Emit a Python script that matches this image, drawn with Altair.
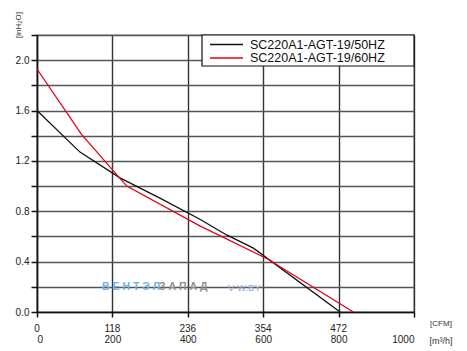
import altair as alt
import pandas as pd

# ---- data ----
series = ["SC220A1-AGT-19/50HZ", "SC220A1-AGT-19/60HZ"]
colors = ["#111111", "#e3001b"]

flow_50 = [0, 114, 220, 326, 432, 503, 574, 804]          # m3/h
press_50 = [1.60, 1.27, 1.065, 0.905, 0.737, 0.612, 0.507, 0.0]  # inH2O

flow_60 = [0, 118, 238, 432, 613, 839]
press_60 = [1.93, 1.41, 1.0, 0.684, 0.419, 0.0]

x_ticks = [0, 100, 200, 300, 400, 500, 600, 700, 800, 900, 1000]
y_ticks = [0.0, 0.2, 0.4, 0.6, 0.8, 1.0, 1.2, 1.4, 1.6, 1.8, 2.0, 2.2]
cfm_pos = [0, 200, 400, 600, 800]
cfm_labels = ["0", "118", "236", "354", "472"]

FONT = "Liberation Sans"

df = pd.DataFrame(
    {"flow": flow_50 + flow_60,
     "press": press_50 + press_60,
     "series": [series[0]] * len(flow_50) + [series[1]] * len(flow_60)}
)
cfm_df = pd.DataFrame({"pos": cfm_pos, "label": cfm_labels})
leg_df = pd.DataFrame({"series": series, "color": colors, "row": [9.5, 23]})

xscale = alt.Scale(domain=[0, 1000], nice=False, zero=False)
yscale = alt.Scale(domain=[0, 2.2], nice=False, zero=False)

lines = alt.Chart(df).mark_line(strokeWidth=1.3).encode(
    x=alt.X("flow:Q", scale=xscale, title=None,
            axis=alt.Axis(values=x_ticks,
                          labelExpr="datum.value % 200 == 0 ? format(datum.value, 'd') : ''",
                          tickSize=5, labelPadding=17, labelFontSize=10,
                          labelFont=FONT, labelColor="#222",
                          domainColor="#111", domainWidth=1.5,
                          tickColor="#111", tickWidth=1.5,
                          gridColor="#333", gridWidth=1.4)),
    y=alt.Y("press:Q", scale=yscale, title=None,
            axis=alt.Axis(values=y_ticks,
                          labelExpr="round(datum.value*10) % 4 == 0 ? format(datum.value, '.1f') : ''",
                          tickSize=6, labelPadding=2, labelFontSize=10,
                          labelFont=FONT, labelColor="#222",
                          domainColor="#111", domainWidth=1.5,
                          tickColor="#111", tickWidth=1.5,
                          gridColor="#555", gridWidth=1.6)),
    color=alt.Color("series:N", scale=alt.Scale(domain=series, range=colors), legend=None),
)

cfm_text = alt.Chart(cfm_df).mark_text(fontSize=10, font=FONT, color="#222",
                                        baseline="middle", align="center").encode(
    x=alt.X("pos:Q", scale=xscale),
    y=alt.value(294),
    text="label:N",
)

one = alt.Data(values=[{"a": 1}])

def label(txt, x, y, size, **kw):
    return alt.Chart(one).mark_text(text=txt, fontSize=size, font=FONT, **kw).encode(
        x=alt.value(x), y=alt.value(y))

unit_y = label("[inH₂O]", -18, -10, 8, angle=270, color="#333", baseline="middle", align="center")
unit_cfm = label("[CFM]", 404, 289, 8, color="#333", baseline="middle", align="center")
unit_m3h = label("[m³/h]", 404, 306, 9, color="#333", baseline="middle", align="center")

# watermark
wm1 = label("В Е Н Т Э Л", 65, 252, 10.5, color="#6fb2e4", fontWeight="bold",
            baseline="middle", align="left")
wm2 = label("З А П А Д", 122, 252, 10.5, color="#8f8f8f", fontWeight="bold",
            baseline="middle", align="left")
wm3 = label("V-W.BY", 191, 253, 9.5, color="#8eaccc",
            baseline="middle", align="left")

# legend box
leg_box = alt.Chart(one).mark_rect(fill="white", stroke="#111", strokeWidth=1.2).encode(
    x=alt.value(165), x2=alt.value(377), y=alt.value(0), y2=alt.value(31))
leg_lines = alt.Chart(leg_df).mark_rule(strokeWidth=1.3).encode(
    x=alt.value(173), x2=alt.value(206),
    y=alt.Y("row:Q", scale=None),
    color=alt.Color("color:N", scale=None),
)
leg_text = alt.Chart(leg_df).mark_text(fontSize=12.5, font=FONT, color="#111",
                                       baseline="middle", align="left").encode(
    x=alt.value(213),
    y=alt.Y("row:Q", scale=None),
    text="series:N",
)

chart = alt.layer(
    lines, cfm_text, unit_y, unit_cfm, unit_m3h, wm1, wm2, wm3,
    leg_box, leg_lines, leg_text
).resolve_scale(color="independent").properties(
    width=377, height=277,
    padding={"left": 37, "top": 35, "right": 53, "bottom": 39},
    autosize=alt.AutoSizeParams(type="none"),
    background="white",
).configure_view(stroke="#111", strokeWidth=1.2)

chart.save("out.html", embed_options={"renderer": "svg", "actions": False})
